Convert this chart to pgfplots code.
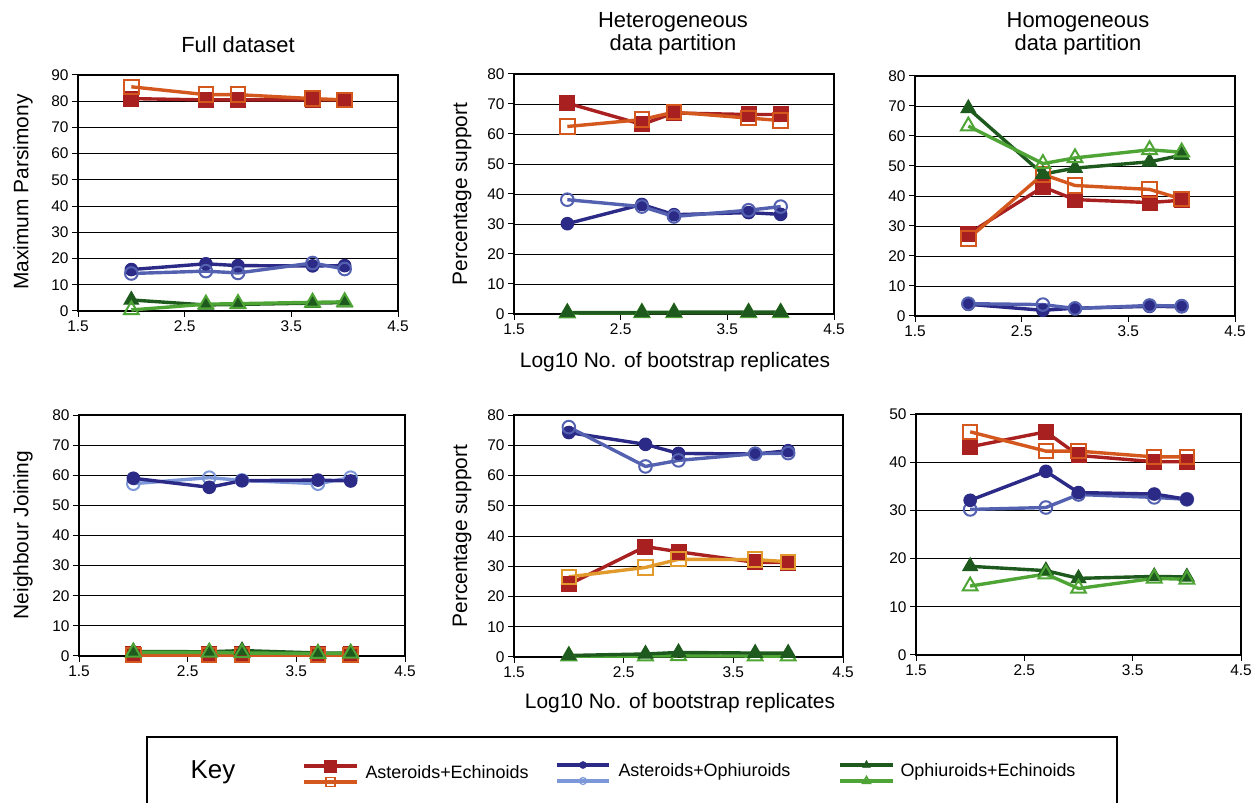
\documentclass[border=0pt]{standalone}
\usepackage{pgfplots}
\pgfplotsset{compat=1.18}
\usepackage{fontspec}
\setmainfont{Liberation Sans}

\definecolor{AEf}{HTML}{A8201F}
\definecolor{AEo}{HTML}{D4581E}
\definecolor{AEog}{HTML}{E39A2D}
\definecolor{AOf}{HTML}{2B2A86}
\definecolor{AOo}{HTML}{5461B0}
\definecolor{AOol}{HTML}{7D98D8}
\definecolor{OEf}{HTML}{1E5A1E}
\definecolor{OEo}{HTML}{4EA535}

\pgfplotsset{
 panel/.style={scale only axis, anchor=south west, xmin=1.5, xmax=4.5, ymin=0,
   xtick={1.5,2.5,3.5,4.5}, xticklabels={1.5,2.5,3.5,4.5},
   ymajorgrids, grid style={black, line width=0.9bp},
   axis line style={black, line width=1.8bp},
   tick style={black, line width=1bp}, tick align=outside,
   xtick pos=bottom, ytick pos=left, major tick length=6bp,
   ticklabel style={font=\fontsize{15.5}{15.5}\selectfont},
   /pgf/number format/assume math mode=true, clip=false},
 fAE/.style={AEf, line width=3.4bp, mark=square*, mark size=7.5bp, mark options={solid, line width=1bp, fill=AEf}},
 oAE/.style={#1, line width=3.4bp, mark=square, mark size=7.2bp, mark options={solid, line width=2bp}},
 oAE/.default=AEo,
 fAO/.style={AOf, line width=3.4bp, mark=*, mark size=6.3bp, mark options={solid, line width=1bp, fill=AOf}},
 oAO/.style={#1, line width=3.4bp, mark=o, mark size=6.3bp, mark options={solid, line width=2bp}},
 oAO/.default=AOo,
 fOE/.style={OEf, line width=3.4bp, mark=triangle*, mark size=8.5bp, mark options={solid, line width=1bp, fill=OEf}},
 oOE/.style={OEo, line width=3.4bp, mark=triangle, mark size=8.5bp, mark options={solid, line width=2bp}},
}
\newcommand{\lab}{\fontsize{21}{21}\selectfont}
\newcommand{\ttl}{\fontsize{22}{25}\selectfont}

\begin{document}
\begin{tikzpicture}
\useasboundingbox (0,0) rectangle (1260bp,803bp);
\fill[white] (0,0) rectangle (1260bp,803bp);

% Panel 1: MP full dataset
\begin{axis}[panel, at={(78bp,492bp)}, width=320bp, height=236bp, ymax=90, ytick={0,10,...,90}]
\addplot[fAE] coordinates {(2,81) (2.699,80.5) (3,80.5) (3.699,80.5) (4,80.5)};
\addplot[oAE] coordinates {(2,85.5) (2.699,82.5) (3,82.5) (3.699,81) (4,80.5)};
\addplot[fAO] coordinates {(2,15.8) (2.699,18) (3,17.3) (3.699,17.2) (4,17.3)};
\addplot[oAO] coordinates {(2,14.3) (2.699,15.2) (3,14.5) (3.699,18.3) (4,16)};
\addplot[fOE] coordinates {(2,4.2) (2.699,2.3) (3,2.5) (3.699,3) (4,3.2)};
\addplot[oOE] coordinates {(2,0.4) (2.699,2.6) (3,2.8) (3.699,3.3) (4,3.5)};
\end{axis}

% Panel 2: MP heterogeneous
\begin{axis}[panel, at={(514bp,489bp)}, width=320bp, height=240bp, ymax=80, ytick={0,10,...,80}]
\addplot[fAE] coordinates {(2,70.3) (2.699,63.2) (3,67) (3.699,66.5) (4,66.5)};
\addplot[oAE] coordinates {(2,62.5) (2.699,64.8) (3,67.3) (3.699,65.3) (4,64.5)};
\addplot[fAO] coordinates {(2,30.1) (2.699,36.5) (3,33.1) (3.699,33.8) (4,33.2)};
\addplot[oAO] coordinates {(2,38.1) (2.699,35.8) (3,32.5) (3.699,34.6) (4,35.8)};
\addplot[oOE] coordinates {(2,0.3) (2.699,0.4) (3,0.4) (3.699,0.4) (4,0.4)};
\addplot[fOE] coordinates {(2,0.5) (2.699,0.5) (3,0.6) (3.699,0.6) (4,0.6)};
\end{axis}

% Panel 3: MP homogeneous
\begin{axis}[panel, at={(915bp,487bp)}, width=320bp, height=240bp, ymax=80, ytick={0,10,...,80}]
\addplot[fAE] coordinates {(2,27.4) (2.699,43) (3,38.8) (3.699,37.8) (4,38.6)};
\addplot[oAE] coordinates {(2,25.8) (2.699,47.2) (3,43.5) (3.699,42.2) (4,39)};
\addplot[fAO] coordinates {(2,3.9) (2.699,1.9) (3,2.6) (3.699,3.2) (4,3.1)};
\addplot[oAO] coordinates {(2,4.1) (2.699,3.8) (3,2.5) (3.699,3.5) (4,3.3)};
\addplot[fOE] coordinates {(2,69.2) (2.699,47.3) (3,49.3) (3.699,51.4) (4,53.6)};
\addplot[oOE] coordinates {(2,63.3) (2.699,50.8) (3,52.7) (3.699,55.4) (4,54.6)};
\end{axis}

% Panel 4: NJ full
\begin{axis}[panel, at={(79bp,147bp)}, width=326bp, height=241bp, ymax=80, ytick={0,10,...,80}]
\addplot[oAO=AOol] coordinates {(2,57.2) (2.699,59.2) (3,58.3) (3.699,57.2) (4,59.2)};
\addplot[fAO] coordinates {(2,59) (2.699,56) (3,58.2) (3.699,58.4) (4,58.1)};
\addplot[fAE] coordinates {(2,0.5) (2.699,0.5) (3,0.5) (3.699,0.5) (4,0.5)};
\addplot[oAE] coordinates {(2,0.3) (2.699,0.3) (3,0.3) (3.699,0.3) (4,0.3)};
\addplot[fOE] coordinates {(2,1.5) (2.699,1.4) (3,1.8) (3.699,1) (4,1)};
\addplot[oOE] coordinates {(2,1.2) (2.699,1.2) (3,1) (3.699,0.8) (4,0.9)};
\end{axis}

% Panel 5: NJ heterogeneous
\begin{axis}[panel, at={(514bp,146bp)}, width=329bp, height=242bp, ymax=80, ytick={0,10,...,80}]
\addplot[fAO] coordinates {(2,74.2) (2.699,70.3) (3,67.3) (3.699,67.1) (4,68.2)};
\addplot[oAO] coordinates {(2,76) (2.699,63) (3,65) (3.699,67.2) (4,67.4)};
\addplot[fAE] coordinates {(2,24) (2.699,36.5) (3,34.8) (3.699,31.3) (4,31.2)};
\addplot[oAE=AEog] coordinates {(2,26.5) (2.699,29.6) (3,32.3) (3.699,32.2) (4,31.5)};
\addplot[oOE] coordinates {(2,0.3) (2.699,0.3) (3,0.4) (3.699,0.3) (4,0.3)};
\addplot[fOE] coordinates {(2,0.5) (2.699,1) (3,1.5) (3.699,1.3) (4,1.3)};
\end{axis}

% Panel 6: NJ homogeneous
\begin{axis}[panel, at={(916bp,148bp)}, width=325bp, height=241bp, ymax=50, ytick={0,10,...,50}]
\addplot[fAE] coordinates {(2,43.2) (2.699,46.3) (3,41.4) (3.699,40.1) (4,40.1)};
\addplot[oAE] coordinates {(2,46.3) (2.699,42.3) (3,42.3) (3.699,41.1) (4,41.1)};
\addplot[oAO] coordinates {(2,30.2) (2.699,30.6) (3,33.3) (3.699,32.7) (4,32.3)};
\addplot[fAO] coordinates {(2,32.1) (2.699,38.1) (3,33.7) (3.699,33.4) (4,32.3)};
\addplot[fOE] coordinates {(2,18.4) (2.699,17.5) (3,15.9) (3.699,16.3) (4,16.2)};
\addplot[oOE] coordinates {(2,14.3) (2.699,16.8) (3,13.8) (3.699,15.9) (4,15.7)};
\end{axis}

% Titles and labels
\node[font=\ttl] at (238bp,758bp) {Full dataset};
\node[font=\ttl] at (673bp,781bp) {Heterogeneous};
\node[font=\ttl] at (673bp,758bp) {data partition};
\node[font=\ttl] at (1078bp,781bp) {Homogeneous};
\node[font=\ttl] at (1078bp,758bp) {data partition};
\node[font=\lab, rotate=90] at (23bp,611bp) {Maximum Parsimony};
\node[font=\lab, rotate=90] at (462bp,609bp) {Percentage support};
\node[font=\lab, rotate=90] at (23bp,268bp) {Neighbour Joining};
\node[font=\lab, rotate=90] at (462bp,267bp) {Percentage support};
\node[font=\lab] at (675bp,441bp) {Log10 No. of bootstrap replicates};
\node[font=\lab] at (680bp,100bp) {Log10 No. of bootstrap replicates};

% Legend
\begin{axis}[at={(0,0)}, anchor=south west, scale only axis, width=1260bp, height=803bp,
  xmin=0, xmax=1260, ymin=0, ymax=803, y dir=reverse, hide axis, clip=false]
\draw[black, line width=1.5bp] (axis cs:147,737) rectangle (axis cs:1117,812);
\node[font=\fontsize{26}{26}\selectfont] at (axis cs:213,772) {Key};
\addplot[AEf, line width=3.5bp, mark=square*, mark size=6bp, mark indices={2}, mark options={solid, line width=0.5bp, fill=AEf}] coordinates {(304,766) (330.5,766) (357,766)};
\addplot[AEo, line width=3.5bp, mark=square, mark size=4.5bp, mark indices={2}, mark options={solid, line width=1.5bp}] coordinates {(304,782) (330.5,782) (357,782)};
\node[font=\fontsize{18}{18}\selectfont, anchor=west] at (axis cs:362,772) {Asteroids+Echinoids};
\addplot[AOf, line width=3.5bp, mark=*, mark size=3.5bp, mark indices={2}, mark options={solid, line width=0.5bp, fill=AOf}] coordinates {(557,765) (583,765) (609,765)};
\addplot[AOol, line width=3.5bp, mark=o, mark size=3.5bp, mark indices={2}, mark options={solid, line width=1.2bp}] coordinates {(557,781) (583,781) (609,781)};
\node[font=\fontsize{18}{18}\selectfont, anchor=west] at (axis cs:615,772) {Asteroids+Ophiuroids};
\addplot[OEf, line width=3.5bp, mark=triangle*, mark size=4.5bp, mark indices={2}, mark options={solid, line width=0.5bp, fill=OEf}] coordinates {(840,765) (866.5,765) (893,765)};
\addplot[OEo, line width=3.5bp, mark=triangle, mark size=4.5bp, mark indices={2}, mark options={solid, line width=1.5bp}] coordinates {(840,781) (866.5,781) (893,781)};
\node[font=\fontsize{18}{18}\selectfont, anchor=west] at (axis cs:897,772) {Ophiuroids+Echinoids};
\end{axis}
\end{tikzpicture}
\end{document}
